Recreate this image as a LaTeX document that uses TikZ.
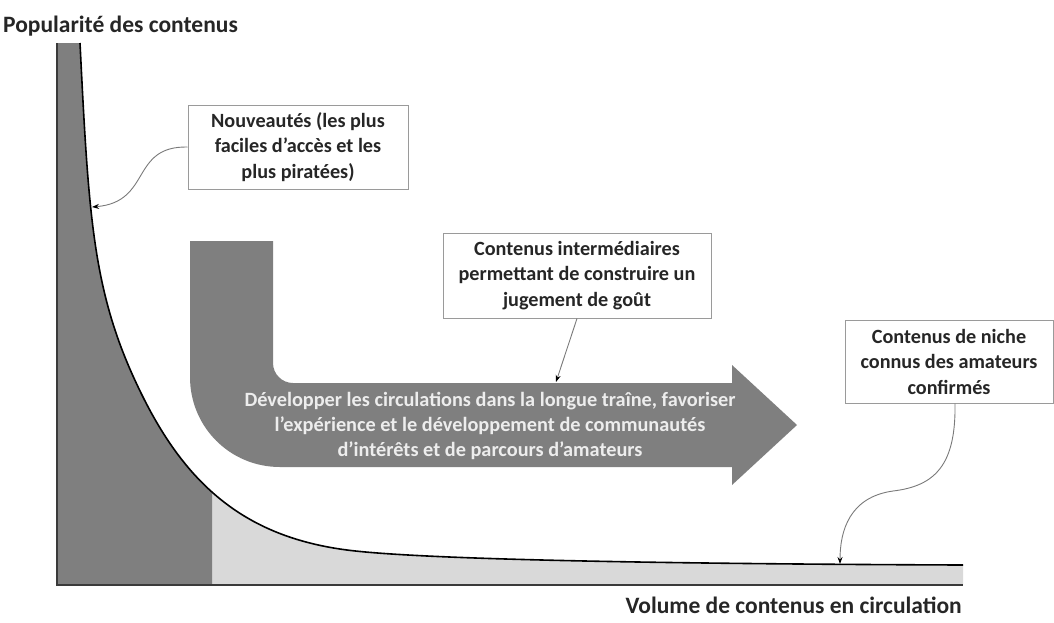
\documentclass[tikz,border=0pt]{standalone}
\usepackage{fontspec}
\setmainfont{Carlito}
\usetikzlibrary{arrows.meta}
\definecolor{bandgray}{HTML}{7F7F7F}
\definecolor{tailgray}{HTML}{D9D9D9}
\definecolor{axisgray}{HTML}{3A3A3A}
\definecolor{boxline}{HTML}{9A9A9A}
\definecolor{leader}{HTML}{7A7A7A}
\definecolor{inktext}{HTML}{262626}
\definecolor{bandtext}{HTML}{EDEDED}
\tikzset{
  note/.style={draw=boxline, line width=1pt, fill=white, inner sep=0pt,
    align=center, text=inktext,
    font=\bfseries\fontsize{20.2}{25.5}\selectfont},
  leaderline/.style={draw=leader, line width=0.9pt,
    -{Stealth[length=7pt,width=5pt,color=black]}},
  axislabel/.style={font=\bfseries\fontsize{23.5}{26}\selectfont, text=inktext, inner sep=0pt},
}
\begin{document}
\begin{tikzpicture}[x=1pt,y=-1pt]
\useasboundingbox (0,0) rectangle (1054,622);

% area under the long-tail curve: light everywhere, dark for the head
\fill[tailgray] (57,43) -- (80,43)
  .. controls (89,223) and (93,297) .. (143,397)
  .. controls (188,487) and (247,537) .. (347,550)
  .. controls (427,560.4) and (700,564) .. (963,565)
  -- (963,585) -- (57,585) -- cycle;
\begin{scope}
  \clip (57,0) rectangle (212,585);
  \fill[bandgray] (57,43) -- (80,43)
    .. controls (89,223) and (93,297) .. (143,397)
    .. controls (188,487) and (247,537) .. (347,550)
    -- (347,585) -- (57,585) -- cycle;
\end{scope}
\draw[black, line width=1.6pt] (80,43)
  .. controls (89,223) and (93,297) .. (143,397)
  .. controls (188,487) and (247,537) .. (347,550)
  .. controls (427,560.4) and (700,564) .. (963,565);

% axes
\draw[axisgray, line width=2pt] (57,43) -- (57,585) -- (963,585);

% bent arrow along the tail
\fill[bandgray] (190,241) -- (273,241) -- (273,363)
  .. controls (273,374) and (282,383) .. (293,383)
  -- (732,383) -- (732,365) -- (797,425) -- (732,485) -- (732,467)
  -- (280,467) .. controls (230,467) and (190,427) .. (190,377) -- cycle;
\node[align=center, text=bandtext, inner sep=0pt,
      font=\bfseries\fontsize{20.3}{25}\selectfont] (band) at (490,426)
  {Développer les circulations dans la longue traîne, favoriser\\
   l’expérience et le développement de communautés\\
   d’intérêts et de parcours d’amateurs};

% axis titles
\node[axislabel, anchor=base west] (ylab) at (3,32) {Popularité des contenus};
\node[axislabel, anchor=base east] (xlab) at (962,613) {Volume de contenus en circulation};

% callout boxes
\node[note, minimum width=220pt, minimum height=84pt] (news) at (298,147)
  {Nouveautés (les plus\\ faciles d’accès et les\\ plus piratées)};
\node[note, minimum width=268pt, minimum height=85pt] (mid) at (577,275.5)
  {Contenus intermédiaires\\ permettant de construire un\\ jugement de goût};
\node[note, minimum width=208pt, minimum height=83pt] (niche) at (949,361.5)
  {Contenus de niche\\ connus des amateurs\\ confirmés};

% targets of the callouts
\coordinate (headpt) at (92,207);
\coordinate (bandpt) at (556,382);
\coordinate (nichept) at (840,564);

\draw[leaderline] (news.west) .. controls (130,146) and (152,202) .. (headpt);
\draw[leaderline] (mid.south) -- (bandpt);
\draw[leaderline] ([xshift=6pt]niche.south) .. controls (956,465) and (935,486) .. (893,491)
  .. controls (850,497) and (840,530) .. (nichept);
\end{tikzpicture}
\end{document}
